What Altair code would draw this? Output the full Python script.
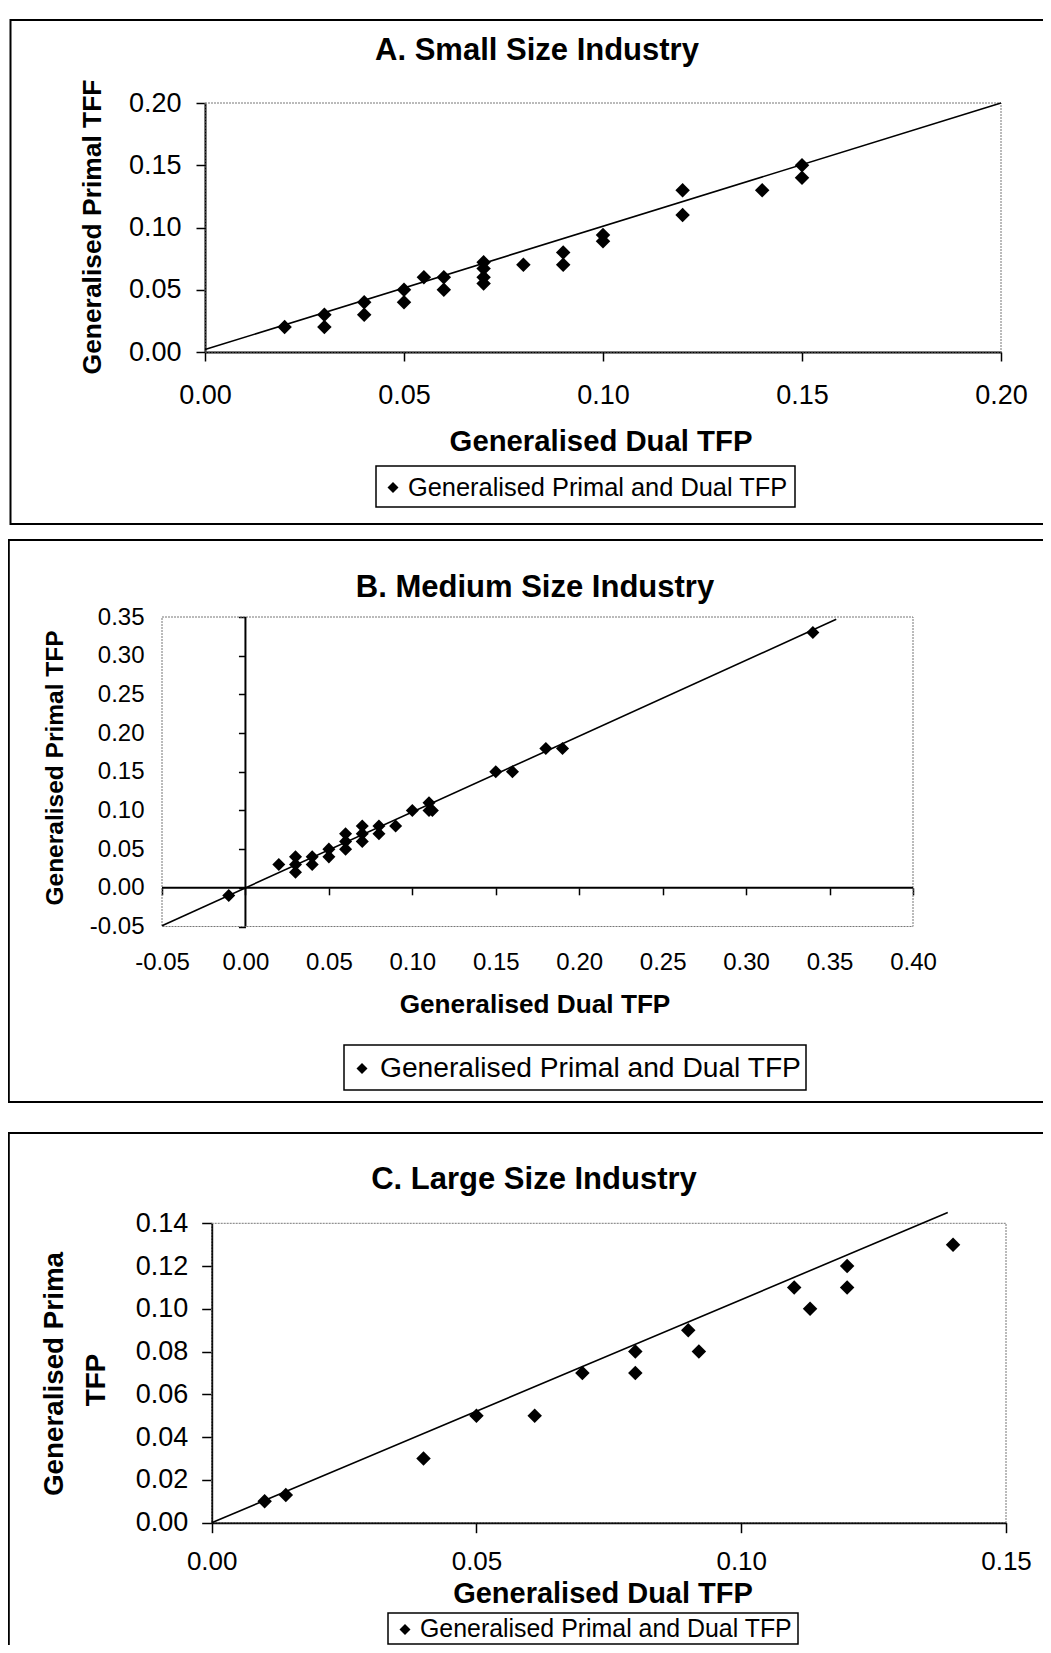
import altair as alt
import pandas as pd

FONT = "Liberation Sans"
W, H = 1035, 1637

# ---------------- data ----------------
# Panel A: Small size industry
a_dual = [0.02, 0.03, 0.03, 0.04, 0.04, 0.05, 0.05, 0.055, 0.06, 0.06,
          0.07, 0.07, 0.07, 0.07, 0.08, 0.09, 0.09, 0.10, 0.10, 0.12,
          0.12, 0.14, 0.15, 0.15]
a_primal = [0.02, 0.03, 0.02, 0.04, 0.03, 0.05, 0.04, 0.06, 0.06, 0.05,
            0.072, 0.067, 0.06, 0.055, 0.07, 0.08, 0.07, 0.094, 0.089, 0.13,
            0.11, 0.13, 0.15, 0.14]
a_fit_dual = [0.0, 0.20]
a_fit_primal = [0.002, 0.20]
a_xticks = [0.0, 0.05, 0.10, 0.15, 0.20]
a_yticks = [0.0, 0.05, 0.10, 0.15, 0.20]

# Panel B: Medium size industry
b_dual = [-0.01, 0.02, 0.03, 0.03, 0.03, 0.04, 0.04, 0.05, 0.05, 0.06,
          0.06, 0.06, 0.07, 0.07, 0.07, 0.08, 0.08, 0.09, 0.10, 0.11,
          0.11, 0.112, 0.15, 0.16, 0.18, 0.19, 0.34]
b_primal = [-0.01, 0.03, 0.04, 0.03, 0.02, 0.04, 0.03, 0.05, 0.04, 0.07,
            0.06, 0.05, 0.08, 0.07, 0.06, 0.08, 0.07, 0.08, 0.10, 0.11,
            0.10, 0.10, 0.15, 0.15, 0.18, 0.18, 0.33]
b_fit_dual = [-0.05, 0.354]
b_fit_primal = [-0.049, 0.347]
b_xticks = [-0.05, 0.0, 0.05, 0.10, 0.15, 0.20, 0.25, 0.30, 0.35, 0.40]
b_yticks = [-0.05, 0.0, 0.05, 0.10, 0.15, 0.20, 0.25, 0.30, 0.35]

# Panel C: Large size industry
c_dual = [0.01, 0.014, 0.04, 0.05, 0.061, 0.07, 0.08, 0.08, 0.09, 0.092,
          0.11, 0.113, 0.12, 0.12, 0.14]
c_primal = [0.01, 0.013, 0.03, 0.05, 0.05, 0.07, 0.08, 0.07, 0.09, 0.08,
            0.11, 0.10, 0.12, 0.11, 0.13]
c_fit_dual = [0.0, 0.139]
c_fit_primal = [0.0, 0.145]
c_xticks = [0.0, 0.05, 0.10, 0.15]
c_yticks = [0.0, 0.02, 0.04, 0.06, 0.08, 0.10, 0.12, 0.14]

titles = ["A. Small Size Industry", "B. Medium Size Industry", "C. Large Size Industry"]
x_title = "Generalised Dual TFP"
legend_label = "Generalised Primal and Dual TFP"

LABEL_EXPR = "(datum.value < 0 ? '-' : '') + format(abs(datum.value), '.2f')"


# ---------------- helpers ----------------
def dummy():
    return pd.DataFrame({"k": [0]})


def text(t, x, y, size, weight="normal", angle=0, align="center"):
    return alt.Chart(dummy()).mark_text(
        text=t, font=FONT, fontSize=size, fontWeight=weight, angle=angle,
        align=align, baseline="middle", color="black"
    ).encode(x=alt.value(x), y=alt.value(y))


def box(x1, y1, x2, y2, width=2.0, color="black"):
    return alt.Chart(dummy()).mark_rect(
        filled=False, stroke=color, strokeWidth=width
    ).encode(x=alt.value(x1), x2=alt.value(x2), y=alt.value(y1), y2=alt.value(y2))


def legend(x1, y1, x2, y2, sym_x, text_x, fs):
    cy = (y1 + y2) / 2
    b = alt.Chart(dummy()).mark_rect(
        fill="white", stroke="black", strokeWidth=1.5
    ).encode(x=alt.value(x1), x2=alt.value(x2), y=alt.value(y1), y2=alt.value(y2))
    sym = alt.Chart(dummy()).mark_point(
        shape="diamond", filled=True, color="black", size=120, opacity=1
    ).encode(x=alt.value(sym_x), y=alt.value(cy + 1))
    t = alt.Chart(dummy()).mark_text(
        text=legend_label, font=FONT, fontSize=fs, align="left",
        baseline="middle", color="black"
    ).encode(x=alt.value(text_x), y=alt.value(cy + 1))
    return [b, sym, t]


def axis(orient, offset, values, fs, tick_size=0, pad=10, labels=True,
         domain=True, ticks=True):
    kw = dict(orient=orient, offset=offset, values=values, labelExpr=LABEL_EXPR,
              grid=False, title=None, labels=labels, domain=domain, ticks=ticks,
              labelFont=FONT, labelFontSize=fs, labelColor="black",
              labelPadding=pad, labelFlush=False, labelOverlap=False,
              labelBound=False, domainColor="black", domainWidth=2,
              tickColor="black", tickWidth=1.5)
    if ticks:
        kw["tickSize"] = tick_size
    return alt.Axis(**kw)


def plot_frame(xs, ys, dom_x, dom_y):
    return alt.Chart(dummy()).mark_rect(
        filled=False, stroke="#777777", strokeWidth=1, strokeDash=[2, 1]
    ).encode(
        x=alt.XDatum(dom_x[0], scale=xs, axis=None),
        x2=alt.X2Datum(dom_x[1]),
        y=alt.YDatum(dom_y[0], scale=ys, axis=None),
        y2=alt.Y2Datum(dom_y[1]),
    )


def scatter(dual, primal, xs, ys, xax, yax, size):
    df = pd.DataFrame({"dual": dual, "primal": primal})
    return alt.Chart(df).mark_point(
        shape="diamond", filled=True, color="black", size=size, opacity=1
    ).encode(
        x=alt.X("dual:Q", scale=xs, axis=xax),
        y=alt.Y("primal:Q", scale=ys, axis=yax),
    )


def fit_line(fx, fy, xs, ys):
    df = pd.DataFrame({"dual": fx, "primal": fy})
    return alt.Chart(df).mark_line(color="black", strokeWidth=1.6).encode(
        x=alt.X("dual:Q", scale=xs, axis=None),
        y=alt.Y("primal:Q", scale=ys, axis=None),
    )


# ---------------- panel A ----------------
a_dx, a_dy = [0.0, 0.20], [0.0, 0.20]
a_xs = alt.Scale(domain=a_dx, range=[197, 993], nice=False, zero=False)
a_ys = alt.Scale(domain=a_dy, range=[344, 95], nice=False, zero=False)
panelA = alt.layer(
    plot_frame(a_xs, a_ys, a_dx, a_dy),
    fit_line(a_fit_dual, a_fit_primal, a_xs, a_ys),
    scatter(a_dual, a_primal, a_xs, a_ys,
            axis("bottom", 344 - H, a_xticks, 27, tick_size=9, pad=21),
            axis("left", -197, a_yticks, 27, tick_size=9, pad=15), 210),
).resolve_axis(x="independent", y="independent")

# ---------------- panel B ----------------
b_dx, b_dy = [-0.05, 0.40], [-0.05, 0.35]
b_xs = alt.Scale(domain=b_dx, range=[154, 905], nice=False, zero=False)
b_ys = alt.Scale(domain=b_dy, range=[918.5, 609], nice=False, zero=False)
b_zero_y = 918.5 - (0.05 / 0.40) * (918.5 - 609)
b_zero_x = 154 + (0.05 / 0.45) * (905 - 154)
b_hline = alt.Chart(dummy()).mark_rule(color="black", strokeWidth=2).encode(
    x=alt.XDatum(b_dx[0], scale=b_xs,
                 axis=axis("bottom", b_zero_y - H, b_xticks, 24, tick_size=7,
                           labels=False, domain=False)),
    x2=alt.X2Datum(b_dx[1]),
    y=alt.YDatum(0.0, scale=b_ys, axis=None),
)
b_vline = alt.Chart(dummy()).mark_rule(color="black", strokeWidth=2).encode(
    x=alt.XDatum(0.0, scale=b_xs, axis=None),
    y=alt.YDatum(b_dy[0], scale=b_ys,
                 axis=axis("left", -b_zero_x, b_yticks, 24, tick_size=7,
                           labels=False, domain=False)),
    y2=alt.Y2Datum(b_dy[1]),
)
panelB = alt.layer(
    plot_frame(b_xs, b_ys, b_dx, b_dy),
    b_hline,
    b_vline,
    fit_line(b_fit_dual, b_fit_primal, b_xs, b_ys),
    scatter(b_dual, b_primal, b_xs, b_ys,
            axis("bottom", 918.5 - H, b_xticks, 24, pad=24, ticks=False, domain=False),
            axis("left", -154, b_yticks, 24, pad=18, ticks=False, domain=False), 170),
).resolve_axis(x="independent", y="independent")

# ---------------- panel C ----------------
c_dx, c_dy = [0.0, 0.15], [0.0, 0.14]
c_xs = alt.Scale(domain=c_dx, range=[203.7, 998], nice=False, zero=False)
c_ys = alt.Scale(domain=c_dy, range=[1514.7, 1215.3], nice=False, zero=False)
panelC = alt.layer(
    plot_frame(c_xs, c_ys, c_dx, c_dy),
    fit_line(c_fit_dual, c_fit_primal, c_xs, c_ys),
    scatter(c_dual, c_primal, c_xs, c_ys,
            axis("bottom", 1514.7 - H, c_xticks, 26, tick_size=10, pad=16),
            axis("left", -203.7, c_yticks, 27, tick_size=10, pad=14), 210),
).resolve_axis(x="independent", y="independent")

# ---------------- decorations ----------------
deco = [
    box(2.5, 12, 1060, 516, width=2),
    box(0.8, 532, 1060, 1094, width=2),
    box(0.8, 1125, 1060, 1700, width=2),
    text(titles[0], 529, 43, 31, "bold"),
    text(titles[1], 527, 580, 31, "bold"),
    text(titles[2], 526, 1172, 31, "bold"),
    text(x_title, 593, 434, 29.3, "bold"),
    text("Generalised Primal TFF", 85, 219, 26.4, "bold", angle=270),
    text(x_title, 527, 997, 26.2, "bold"),
    text("Generalised Primal TFP", 48, 760, 24.5, "bold", angle=270),
    text(x_title, 595, 1585.5, 29, "bold"),
    text("Generalised Prima", 47, 1366, 27.8, "bold", angle=270),
    text("TFP", 89, 1372, 27.8, "bold", angle=270),
]
deco += legend(368, 458, 787, 499, 385, 400, 25.4)
deco += legend(336, 1037, 798, 1082, 354, 372, 28.2)
deco += legend(380, 1605, 790, 1636, 397, 412, 24.9)

chart = alt.layer(
    *deco[:3], panelA, panelB, panelC, *deco[3:]
).resolve_scale(
    x="independent", y="independent"
).properties(
    width=W, height=H, padding=0,
    autosize=alt.AutoSizeParams(type="none"),
    background="white",
).configure_view(stroke="transparent")

chart.save("out.html", embed_options={"renderer": "svg", "actions": False})
